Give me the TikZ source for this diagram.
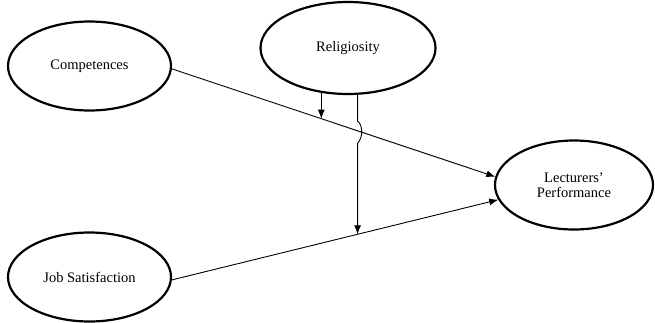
\documentclass[tikz,border=0pt]{standalone}
\usepackage{fontspec}
\setmainfont{Liberation Serif}
\usetikzlibrary{shapes.geometric,arrows.meta,calc}
\begin{document}
\begin{tikzpicture}[x=1pt,y=-1pt,
  latent/.style={ellipse,draw,line width=2.2pt,inner sep=0pt,font=\fontsize{14.5}{16}\selectfont,align=center},
  conn/.style={line width=0.9pt,-{Latex[length=9pt,width=7pt]}}]
\useasboundingbox (0,0) rectangle (655,322);
\node[latent,minimum width=163pt,minimum height=89pt] (comp) at (89.5,66) {Competences};
\node[latent,minimum width=175pt,minimum height=92pt] (rel) at (348,48) {Religiosity};
\node[latent,minimum width=158pt,minimum height=89pt] (lect) at (574,185) {Lecturers’\\[-1pt]Performance};
\node[latent,minimum width=163pt,minimum height=89pt] (job) at (89.5,277) {Job Satisfaction};
\draw[conn] (comp.-2.8) -- (lect.174) coordinate[pos=0.462] (m1) coordinate[pos=0.569] (x2);
\draw[conn] (job.-2) -- (lect.191) coordinate[pos=0.569] (m2);
\draw[conn] (m1 |- rel.238.9) -- (m1);
\draw[conn] (m2 |- rel.279.1) -- (m2 |- {$(x2)+(0,-9)$}) .. controls +(5,3) and +(6,-6) .. (m2 |- {$(x2)+(0,13)$}) -- (m2);
\end{tikzpicture}
\end{document}
